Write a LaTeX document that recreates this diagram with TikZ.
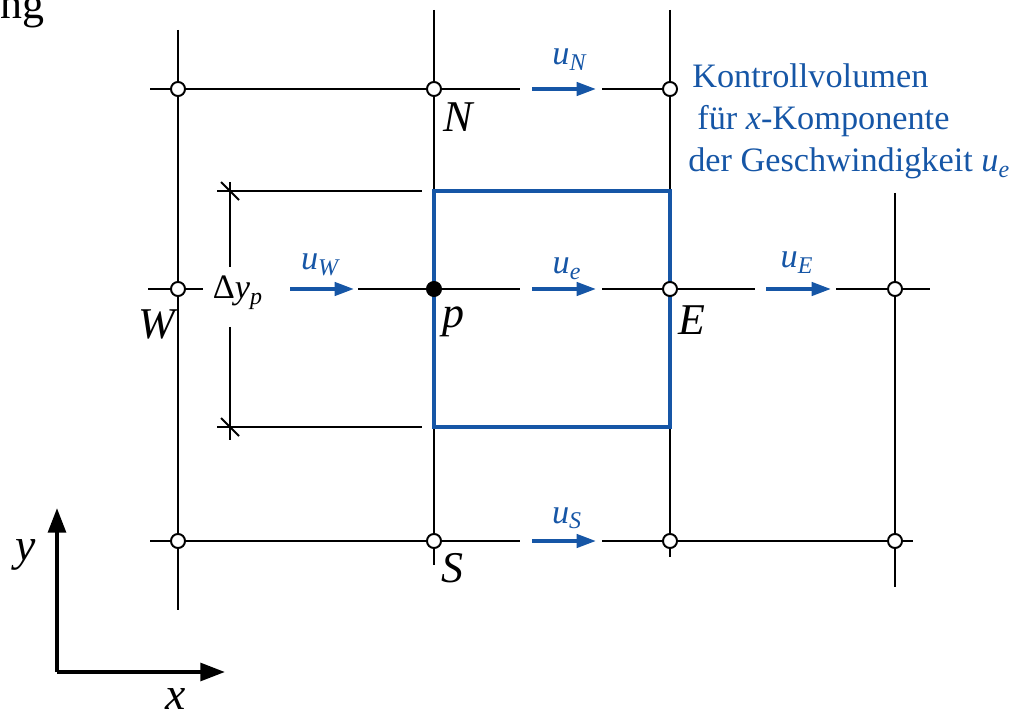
\documentclass[tikz,border=0pt]{standalone}
\usepackage{fontspec}
\setmainfont{Liberation Serif}
\usetikzlibrary{positioning, arrows.meta, backgrounds}

\definecolor{cvblue}{RGB}{22,86,166}
\newcommand{\idx}[1]{\textsubscript{\textit{#1}}}

\begin{document}
\begin{tikzpicture}[
	x=0.02cm, y=-0.02cm,
	% Define styles for the grid
	grid_line/.style={line width=1.1pt, black},
	gpoint/.style={
		circle,
		draw=black,
		fill=white,
		line width=1.1pt,
		inner sep=0pt,
		minimum size=8pt
	},
	ppoint/.style={gpoint, fill=black},
	cv_box/.style={draw=cvblue, line width=1.8pt},
	flow/.style={
		-{Triangle[length=11pt, width=7.5pt]},
		draw=cvblue,
		line width=2.1pt
	},
	flow_text/.style={
		font=\fontsize{19.5}{22}\selectfont,
		text=cvblue,
		inner sep=0pt,
		anchor=base
	},
	point_text/.style={
		font=\fontsize{25}{28}\selectfont\itshape,
		inner sep=0pt,
		anchor=base
	},
	axis/.style={
		-{Triangle[length=14pt, width=10pt]},
		line width=2.3pt
	}
	]
	\useasboundingbox (0,0) rectangle (1017,719);
	
	% --- 0. HEADING (cut off) ---
	\node[font=\fontsize{25}{28}\selectfont, inner sep=0pt, anchor=base east] (heading) at (45,19) {ng};
	
	% --- 1. GRID POINTS ---
	\node[gpoint] (nw) at (178,89) {};
	\node[gpoint] (n) at (434,89) {};
	\node[gpoint] (ne) at (670,89) {};
	\node[gpoint] (w) at (178,289) {};
	\node[ppoint] (p) at (434,289) {};
	\node[gpoint] (e) at (670,289) {};
	\node[gpoint] (ee) at (895,289) {};
	\node[gpoint] (sw) at (178,541) {};
	\node[gpoint] (s) at (434,541) {};
	\node[gpoint] (se) at (670,541) {};
	\node[gpoint] (see) at (895,541) {};
	
	% free ends of the grid lines
	\coordinate (c1_top) at (178,30);
	\coordinate (c1_bot) at (178,610);
	\coordinate (c2_top) at (434,10);
	\coordinate (c2_bot) at (434,565);
	\coordinate (c3_top) at (670,10);
	\coordinate (c3_bot) at (670,557);
	\coordinate (c4_top) at (895,193);
	\coordinate (c4_bot) at (895,587);
	
	\coordinate (r1_a) at (150,89);
	\coordinate (r1_b) at (520,89);
	\coordinate (r1_c) at (602,89);
	\coordinate (r2_a) at (148,289);
	\coordinate (r2_b) at (203,289);
	\coordinate (r2_c) at (358,289);
	\coordinate (r2_d) at (520,289);
	\coordinate (r2_e) at (602,289);
	\coordinate (r2_f) at (755,289);
	\coordinate (r2_g) at (836,289);
	\coordinate (r2_h) at (930,289);
	\coordinate (r3_a) at (150,541);
	\coordinate (r3_b) at (520,541);
	\coordinate (r3_c) at (602,541);
	\coordinate (r3_d) at (913,541);
	
	% --- 2. GRID LINES AND CONTROL VOLUME ---
	\begin{scope}[on background layer]
		\draw[grid_line] (c1_top) -- (nw.center) -- (w.center) -- (sw.center) -- (c1_bot);
		\draw[grid_line] (c2_top) -- (n.center) -- (p.center) -- (s.center) -- (c2_bot);
		\draw[grid_line] (c3_top) -- (ne.center) -- (e.center) -- (se.center) -- (c3_bot);
		\draw[grid_line] (c4_top) -- (ee.center) -- (see.center) -- (c4_bot);
		
		\draw[grid_line] (r1_a) -- (nw.center) -- (n.center) -- (r1_b);
		\draw[grid_line] (r1_c) -- (ne.center);
		\draw[grid_line] (r2_a) -- (w.center) -- (r2_b);
		\draw[grid_line] (r2_c) -- (p.center) -- (r2_d);
		\draw[grid_line] (r2_e) -- (e.center) -- (r2_f);
		\draw[grid_line] (r2_g) -- (ee.center) -- (r2_h);
		\draw[grid_line] (r3_a) -- (sw.center) -- (s.center) -- (r3_b);
		\draw[grid_line] (r3_c) -- (se.center) -- (see.center) -- (r3_d);
		
		% Kontrollvolumen
		\coordinate (cv_nw) at (434,191);
		\coordinate (cv_se) at (670,427);
		\draw[cv_box] (cv_nw) rectangle (cv_se);
	\end{scope}
	
	% --- 3. POINT LABELS ---
	\node[point_text] (lab_n) at (458,132) {N};
	\node[point_text] (lab_w) at (157,338) {W};
	\node[point_text] (lab_p) at (453,328) {p};
	\node[point_text] (lab_e) at (692,335) {E};
	\node[point_text] (lab_s) at (452,582) {S};
	
	% --- 4. VELOCITIES ---
	\coordinate (uN_a) at (532,89);
	\coordinate (uN_b) at (596,89);
	\coordinate (uW_a) at (290,289);
	\coordinate (uW_b) at (354,289);
	\coordinate (ue_a) at (532,289);
	\coordinate (ue_b) at (596,289);
	\coordinate (uE_a) at (766,289);
	\coordinate (uE_b) at (831,289);
	\coordinate (uS_a) at (532,541);
	\coordinate (uS_b) at (596,541);
	
	\draw[flow] (uN_a) -- (uN_b);
	\draw[flow] (uW_a) -- (uW_b);
	\draw[flow] (ue_a) -- (ue_b);
	\draw[flow] (uE_a) -- (uE_b);
	\draw[flow] (uS_a) -- (uS_b);
	
	\node[flow_text] (lab_uN) at (570,65) {\textit{u}\idx{N}};
	\node[flow_text] (lab_uW) at (321,270) {\textit{u}\idx{W}};
	\node[flow_text] (lab_ue) at (567,274) {\textit{u}\idx{e}};
	\node[flow_text] (lab_uE) at (797,268) {\textit{u}\idx{E}};
	\node[flow_text] (lab_uS) at (567,523) {\textit{u}\idx{S}};
	
	% Kontrollvolumen text
	\node[flow_text, anchor=base west] (kv_1) at (692,88) {Kontrollvolumen};
	\node[flow_text, anchor=base west] (kv_2) at (697,130) {für \textit{x}-Komponente};
	\node[flow_text, anchor=base west] (kv_3) at (688,172) {der Geschwindigkeit \textit{u}\idx{e}};
	
	% --- 5. DIMENSION DELTA Y ---
	\coordinate (dim_t_l) at (217,191);
	\coordinate (dim_t_r) at (422,191);
	\coordinate (dim_b_l) at (217,427);
	\coordinate (dim_b_r) at (422,427);
	\coordinate (dim_v_1) at (230,182);
	\coordinate (dim_v_2) at (230,267);
	\coordinate (dim_v_3) at (230,327);
	\coordinate (dim_v_4) at (230,440);
	
	\draw[grid_line] (dim_t_l) -- (dim_t_r);
	\draw[grid_line] (dim_b_l) -- (dim_b_r);
	\draw[grid_line] (dim_v_1) -- (dim_v_2);
	\draw[grid_line] (dim_v_3) -- (dim_v_4);
	% ticks
	\draw[grid_line] (221,182) -- (239,200);
	\draw[grid_line] (221,418) -- (239,436);
	
	\node[flow_text, text=black] (dy) at (238,299) {Δ\textit{y}\idx{p}};
	
	% --- 6. AXES ---
	\coordinate (origin) at (57,672);
	\coordinate (x_tip) at (225,672);
	\coordinate (y_tip) at (57,508);
	\draw[axis] (origin) -- (x_tip);
	\draw[axis] (origin) -- (y_tip);
	
	\node[point_text, font=\fontsize{26}{28}\selectfont\itshape] (lab_x) at (176,709) {x};
	\node[point_text, font=\fontsize{26}{28}\selectfont\itshape] (lab_y) at (26,560) {y};
	
\end{tikzpicture}
\end{document}
